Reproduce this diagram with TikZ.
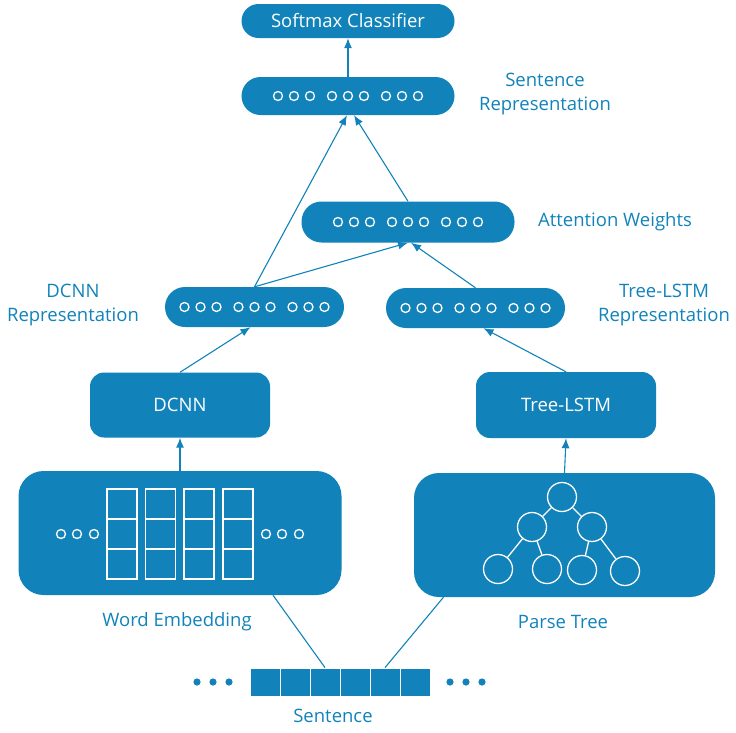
\documentclass[tikz,border=0pt]{standalone}
\usepackage{fontspec}
\setmainfont{Open Sans}
\usetikzlibrary{arrows.meta,calc}
\definecolor{boxblue}{RGB}{17,131,186}
\def\holes(#1){\foreach \dx in {-70,-54,-38,-16,0,16,38,54,70} \draw[white, line width=1.3pt] ($(#1)+(\dx,0)$) circle (4.5pt);}

\begin{document}
\begin{tikzpicture}[x=1pt, y=-1pt,
	pill/.style={fill=boxblue, rounded corners=#1, inner sep=0pt, text=white, font=\fontsize{18.5}{22}\selectfont},
	pill/.default=19pt,
	lbl/.style={text=boxblue, align=center, font=\fontsize{18.5}{24}\selectfont},
	conn/.style={boxblue, line width=1.1pt},
	arr/.style={conn, -{Latex[length=10pt,width=8pt]}},
	treenode/.style={circle, draw=white, line width=1.3pt, minimum size=29pt, inner sep=0pt},
	cell/.style={fill=boxblue, draw=white, line width=0.8pt, minimum width=30pt, minimum height=28pt, inner sep=0pt}]
			%%%%% START %%%%%
			\useasboundingbox (0, 0) rectangle (736, 732);
			
			\node[pill=17pt, minimum width=213pt, minimum height=34pt] (softmax) at (348, 21) {Softmax Classifier};
			\node[pill, minimum width=213pt, minimum height=38pt] (sentrep) at (348, 96) {};
			\holes(sentrep)
			\node[pill=20pt, minimum width=213pt, minimum height=41pt] (attn) at (408, 222) {};
			\holes(attn)
			\node[pill=20pt, minimum width=179pt, minimum height=40pt] (dcnnrep) at (254.5, 307) {};
			\holes(dcnnrep)
			\node[pill=20pt, minimum width=179pt, minimum height=40pt] (treerep) at (475.5, 308) {};
			\holes(treerep)
			
			\node[pill=14pt, minimum width=180pt, minimum height=65pt] (dcnn) at (180, 405) {DCNN};
			\node[pill=14pt, minimum width=180pt, minimum height=66pt] (treelstm) at (566, 405) {Tree-LSTM};
			
			% word embedding
			\node[pill=25pt, minimum width=323pt, minimum height=124pt] (wordemb) at (180, 533) {};
			\foreach \cx in {122, 160.5, 199, 238}
				\foreach \cy in {504, 534, 564}
					\draw[white, line width=1.3pt] (\cx-15, \cy-15) rectangle (\cx+15, \cy+15);
			\foreach \cx in {61, 77, 94, 266, 282, 299}
				\draw[white, line width=1.3pt] (\cx, 534) circle (4.5pt);
			
			% parse tree
			\node[pill=25pt, minimum width=301pt, minimum height=124pt] (parse) at (564.5, 535) {};
			\node[treenode] (t0) at (562, 497) {};
			\node[treenode] (t1) at (532, 527) {};
			\node[treenode] (t2) at (592, 527) {};
			\node[treenode] (t3) at (498, 569) {};
			\node[treenode] (t4) at (547, 569) {};
			\node[treenode] (t5) at (582, 570) {};
			\node[treenode] (t6) at (625, 571) {};
			\draw[white, line width=1.3pt] (t0) -- (t1) (t0) -- (t2) (t1) -- (t3) (t1) -- (t4) (t2) -- (t5) (t2) -- (t6);
			
			% sentence
			\foreach \i in {1,...,6}
				\node[cell] (s\i) at (235+30*\i, 682) {};
			\foreach \cx in {197, 213, 229, 450, 466, 482}
				\fill[boxblue] (\cx, 682) circle (3.6pt);
			
			% labels
			\node[lbl] (lsentrep) at (545, 94) {Sentence\\Representation};
			\node[lbl] (lattn) at (615, 222) {Attention Weights};
			\node[lbl] (ldcnnrep) at (73, 305) {DCNN\\Representation};
			\node[lbl] (ltreerep) at (664, 305) {Tree-LSTM\\Representation};
			\node[lbl] (lwordemb) at (177, 622) {Word Embedding};
			\node[lbl] (lparse) at (563, 622) {Parse Tree};
			\node[lbl] (lsent) at (333, 716) {Sentence};
			
			% connectors
			\draw[arr] (sentrep.north) -- (softmax.south);
			\draw[arr] (dcnnrep.north) -- ($(sentrep.south)+(-1, 0)$);
			\draw[arr] (attn.north) -- ($(sentrep.south)+(6, 0)$);
			\draw[arr] (dcnnrep.north) -- (attn.south);
			\draw[arr] (treerep.north) -- ($(attn.south)+(3, 0)$);
			\draw[arr] (dcnn.north) -- ($(dcnnrep.south)+(-4, 0)$);
			\draw[arr] (treelstm.north) -- ($(treerep.south)+(8, 0)$);
			\draw[arr] (wordemb.north) -- (dcnn.south);
			\draw[arr] (parse.north) -- (treelstm.south);
			\draw[conn] ($(wordemb.south)+(93, 0)$) -- (s3.north);
			\draw[conn] ($(parse.south)+(-121, 0)$) -- (s5.north);
			%%%%% END %%%%%
\end{tikzpicture}
\end{document}
